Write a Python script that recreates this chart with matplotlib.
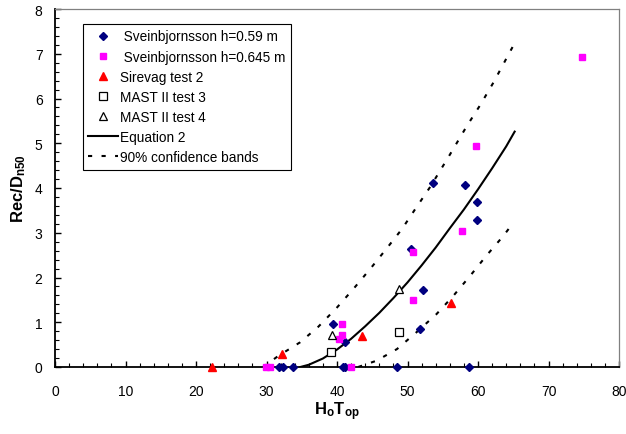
import matplotlib
matplotlib.use('Agg')
import matplotlib.pyplot as plt
from matplotlib.ticker import MultipleLocator

plt.rcParams['font.family'] = ['Liberation Sans', 'DejaVu Sans']
plt.rcParams['mathtext.fontset'] = 'custom'
plt.rcParams['mathtext.rm'] = 'Liberation Sans'
plt.rcParams['mathtext.bf'] = 'Liberation Sans:bold'
plt.rcParams['mathtext.it'] = 'Liberation Sans:italic'

# ---------------- data ----------------
sv059_x = [31.8, 32.3, 33.7, 40.8, 41.2, 48.5, 58.7, 39.5, 41.1, 51.8, 50.5, 53.6, 58.1, 59.8, 59.8, 52.2]
sv059_y = [0, 0, 0, 0, 0, 0, 0, 0.96, 0.55, 0.86, 2.64, 4.11, 4.07, 3.68, 3.29, 1.73]

sv0645_x = [29.9, 30.5, 42.0, 40.65, 40.65, 40.3, 50.8, 50.8, 57.7, 59.7, 74.8]
sv0645_y = [0, 0, 0, 0.96, 0.72, 0.63, 2.56, 1.50, 3.05, 4.93, 6.92]

sirevag_x = [22.3, 32.25, 43.6, 56.2]
sirevag_y = [0, 0.30, 0.70, 1.43]

mast3_x = [39.15, 48.8]
mast3_y = [0.34, 0.79]

mast4_x = [39.25, 48.8]
mast4_y = [0.72, 1.74]

eq2_x = [34.8, 36, 38, 40, 42, 44, 46, 48, 50, 52, 54, 56, 58, 60, 62, 64, 65.2]
eq2_y = [0.0, 0.05, 0.19, 0.39, 0.63, 0.91, 1.21, 1.54, 1.89, 2.27, 2.67, 3.10, 3.52, 3.97, 4.44, 4.93, 5.26]

upper_x = [29.5, 31.7, 34.75, 37.35, 40.0, 42.3, 44.7, 47.0, 49.2, 51.1, 53.2, 55.8, 58.4, 60.3, 62.2, 64.9]
upper_y = [0.0, 0.25, 0.55, 0.90, 1.33, 1.74, 2.19, 2.64, 3.08, 3.53, 4.02, 4.69, 5.38, 5.85, 6.36, 7.15]

lower_x = [43.0, 45.6, 48.5, 51.3, 54.1, 56.5, 58.9, 61.2, 63.6, 64.8]
lower_y = [0.0, 0.14, 0.40, 0.78, 1.18, 1.59, 2.04, 2.49, 2.93, 3.18]

x_ticks = [0, 10, 20, 30, 40, 50, 60, 70, 80]
y_ticks = [0, 1, 2, 3, 4, 5, 6, 7, 8]

# ---------------- figure ----------------
W, H = 626, 435
fig = plt.figure(figsize=(W / 100, H / 100), dpi=100)
ax = fig.add_axes([55 / W, 67 / H, 564 / W, 358 / H])

ms = 4.8
ax.plot(sv059_x, sv059_y, linestyle='none', marker='D', ms=ms * 0.95, color='#000080',
        mec='#000080', label=' Sveinbjornsson h=0.59 m', clip_on=False, zorder=4)
ax.plot(sv0645_x, sv0645_y, linestyle='none', marker='s', ms=ms, color='#FF00FF',
        mec='#FF00FF', label=' Sveinbjornsson h=0.645 m', clip_on=False, zorder=4)
ax.plot(sirevag_x, sirevag_y, linestyle='none', marker='^', ms=ms + 1, color='#FF0000',
        mec='#FF0000', label='Sirevag test 2', clip_on=False, zorder=4)
ax.plot(mast3_x, mast3_y, linestyle='none', marker='s', ms=ms + 0.6, mfc='white',
        mec='black', mew=0.9, label='MAST II test 3', clip_on=False, zorder=4)
ax.plot(mast4_x, mast4_y, linestyle='none', marker='^', ms=ms + 1.2, mfc='white',
        mec='black', mew=0.9, label='MAST II test 4', clip_on=False, zorder=4)
ax.plot(eq2_x, eq2_y, color='black', lw=1.5, label='Equation 2', zorder=3)
ax.plot(upper_x, upper_y, color='black', lw=1.5, dashes=(2, 4.5),
        label='90% confidence bands', zorder=3)
ax.plot(lower_x, lower_y, color='black', lw=1.5, dashes=(2, 4.5), zorder=3)

ax.set_xlim(0, 80)
ax.set_ylim(0, 8)
ax.set_xticks(x_ticks)
ax.set_yticks(y_ticks)
ax.xaxis.set_minor_locator(MultipleLocator(2))
ax.yaxis.set_minor_locator(MultipleLocator(0.2))
ax.tick_params(which='major', direction='in', length=4.5, width=1, colors='black',
               labelsize=10, top=False, right=False)
ax.tick_params(which='minor', direction='in', length=3, width=0.8, top=False, right=False)
ax.tick_params(axis='x', which='major', pad=12)
ax.tick_params(axis='y', which='major', pad=9)

for side in ['left', 'bottom']:
    ax.spines[side].set_color('black')
    ax.spines[side].set_linewidth(1.3)
for side in ['top', 'right']:
    ax.spines[side].set_color('#808080')
    ax.spines[side].set_linewidth(0.9)

ax.set_xlabel(r'$\mathbf{H_oT_{op}}$', fontsize=12, labelpad=1)
ax.set_ylabel(r'$\mathbf{Rec/D_{n50}}$', fontsize=12, labelpad=5)

leg = ax.legend(loc='upper left', bbox_to_anchor=((83 - 55) / 564, (368 - 25) / 358),
                borderaxespad=0, fontsize=9.8, frameon=True, fancybox=False, shadow=False,
                handlelength=2.2, handletextpad=0.15, labelspacing=0.45, borderpad=0.4,
                numpoints=1)
leg.get_frame().set_edgecolor('black')
leg.get_frame().set_linewidth(0.8)
leg.get_frame().set_alpha(1)

fig.savefig('out.png', dpi=100)
